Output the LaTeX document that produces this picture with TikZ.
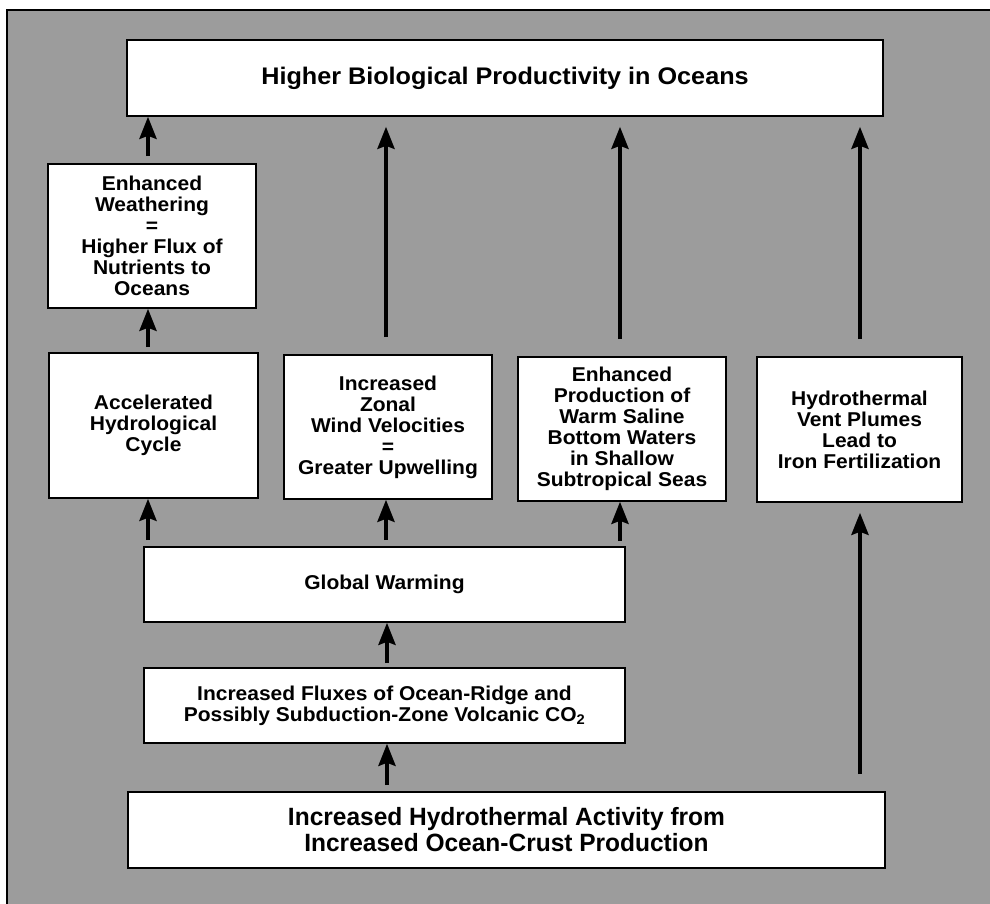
\documentclass[tikz,border=0pt]{standalone}
\usepackage{fontspec}
\setmainfont{Liberation Sans}[FakeStretch=1.05]
\newfontfamily\botbf{Liberation Sans}[FakeStretch=0.98]
\usetikzlibrary{arrows.meta}
\definecolor{bggray}{RGB}{156,156,156}
\begin{document}
\begin{tikzpicture}[x=1pt,y=-1pt,
  box/.style={draw=black, line width=1.6pt, fill=white, inner sep=0pt, align=center,
    font=\bfseries\fontsize{20}{21}\selectfont},
  arr/.style={line width=4pt, -{Stealth[length=22pt,width=17pt,inset=3pt]}}]
\useasboundingbox (0,0) rectangle (990,904);
\fill[bggray] (7,10) rectangle (990,904);
\draw[line width=1.5pt] (7,904) -- (7,10) -- (990,10);

\node[box, minimum width=756pt, minimum height=76pt,
  font=\bfseries\fontsize{24}{26}\selectfont] (top) at (505,78)
  {Higher Biological Productivity in Oceans};
\node[box, minimum width=208pt, minimum height=144pt] (weath) at (152,236)
  {Enhanced\\Weathering\\=\\Higher Flux of\\Nutrients to\\Oceans};
\node[box, minimum width=209pt, minimum height=145pt] (hydro) at (153.5,425.5)
  {Accelerated\\Hydrological\\Cycle};
\node[box, minimum width=208pt, minimum height=144pt] (zonal) at (388,427)
  {Increased\\Zonal\\Wind Velocities\\=\\Greater Upwelling};
\node[box, minimum width=208pt, minimum height=144pt] (prod) at (622,429)
  {Enhanced\\Production of\\Warm Saline\\Bottom Waters\\in Shallow\\Subtropical Seas};
\node[box, minimum width=205pt, minimum height=145pt] (vent) at (859.5,429.5)
  {Hydrothermal\\Vent Plumes\\Lead to\\Iron Fertilization};
\node[box, minimum width=481pt, minimum height=75pt] (gw) at (384.5,584.5)
  {Global Warming};
\node[box, minimum width=481pt, minimum height=75pt] (flux) at (384.5,705.5)
  {Increased Fluxes of Ocean-Ridge and\\Possibly Subduction-Zone Volcanic CO\textsubscript{2}};
\node[box, minimum width=757pt, minimum height=76pt,
  font=\botbf\bfseries\fontsize{25}{26}\selectfont] (bot) at (506.5,830)
  {Increased Hydrothermal Activity from\\Increased Ocean-Crust Production};

\coordinate (xA) at (148,0);
\coordinate (xB) at (386,0);
\coordinate (xC) at (620,0);
\coordinate (xD) at (860,0);
\coordinate (xE) at (387,0);

\draw[arr, shorten <=7pt] (weath.north -| xA) -- (top.south -| xA);
\draw[arr, shorten <=5pt] (hydro.north -| xA) -- (weath.south -| xA);
\draw[arr, shorten <=6pt] (gw.north -| xA) -- (hydro.south -| xA);
\draw[arr, shorten <=17pt, shorten >=10pt] (zonal.north -| xB) -- (top.south -| xB);
\draw[arr, shorten <=17pt, shorten >=10pt] (prod.north -| xC) -- (top.south -| xC);
\draw[arr, shorten <=17pt, shorten >=10pt] (vent.north -| xD) -- (top.south -| xD);
\draw[arr, shorten <=6pt] (gw.north -| xB) -- (zonal.south -| xB);
\draw[arr, shorten <=5pt] (gw.north -| xC) -- (prod.south -| xC);
\draw[arr, shorten <=4pt] (flux.north -| xE) -- (gw.south -| xE);
\draw[arr, shorten <=6pt] (bot.north -| xE) -- (flux.south -| xE);
\draw[arr, shorten <=17pt, shorten >=10pt] (bot.north -| xD) -- (vent.south -| xD);
\end{tikzpicture}
\end{document}
